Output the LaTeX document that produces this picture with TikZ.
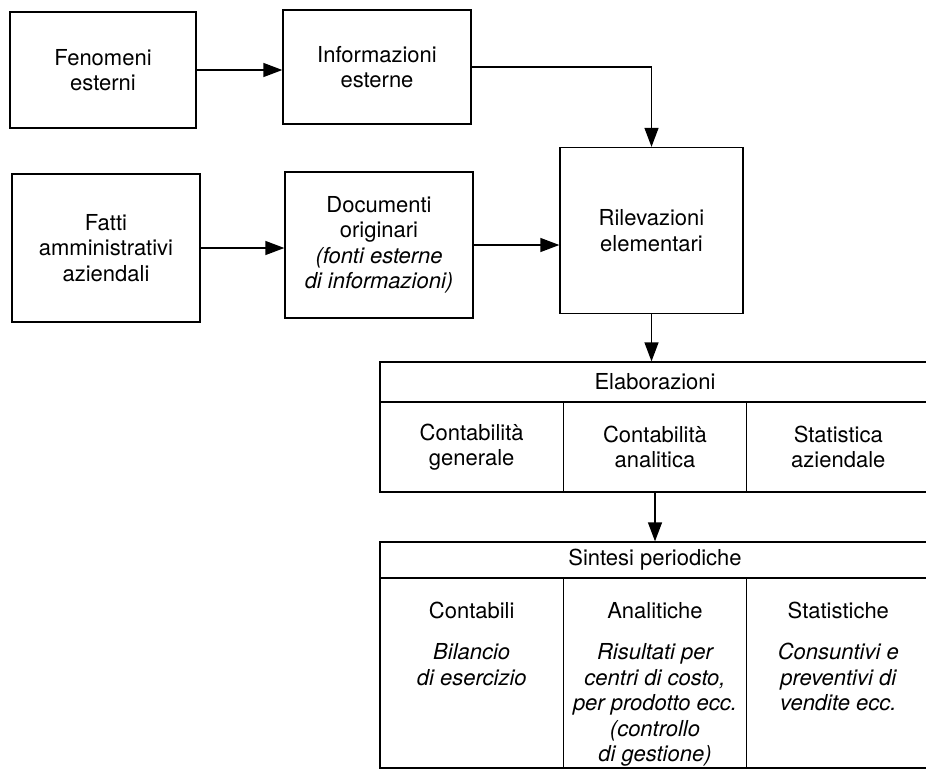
\documentclass[tikz,border=0pt]{standalone}
\usepackage{fontspec}
\setmainfont{TeX Gyre Heros}
\usetikzlibrary{arrows.meta,positioning}

% cell of the lower table: title on top, italic text below
\newcommand{\sumcell}[2]{\parbox[c][190pt][t]{175pt}{\centering\vspace*{24pt}#1\\[16pt]\itshape #2}}

\begin{document}
\begin{tikzpicture}[
        x=1pt, y=-1pt,
        font=\fontsize{22}{25.5}\selectfont,
        block/.style={
            rectangle,
            draw=black,
            line width=1.3pt,
            align=center,
            inner sep=0pt
        },
        heading/.style={
            block,
            minimum width=550pt
        },
        cell/.style={
            block,
            minimum width=183.3pt,
            text width=175pt,
            minimum height=90pt
        },
        tallcell/.style={
            block,
            minimum width=183.3pt,
            minimum height=190pt
        },
        arrow/.style={-{Triangle[length=19pt,width=14pt]}, draw, line width=1.3pt}
    ]
        \clip (0,0) rectangle (926,774);

        % Source nodes
        \node[block, minimum width=186pt, minimum height=116pt] (fenomeni) at (103,70) {Fenomeni\\esterni};
        \node[block, minimum width=188pt, minimum height=114pt] (informazioni) at (377,67) {Informazioni\\esterne};
        \node[block, minimum width=188pt, minimum height=148pt] (fatti) at (106,248) {Fatti\\amministrativi\\aziendali};
        \node[block, minimum width=188pt, minimum height=146pt] (documenti) at (379,245) {Documenti\\originari\\\textit{(fonti esterne}\\\textit{di informazioni)}};
        \node[block, minimum width=183pt, minimum height=166pt] (rilevazioni) at (651.5,230.5) {Rilevazioni\\elementari};

        % Elaborazioni table
        \node[heading, minimum height=40pt] (elaborazioni) at (655,382) {Elaborazioni};
        \node[cell] (cgenerale) at (471.7,447) {Contabilità\\generale};
        \node[cell] (canalitica) at (655,447) {Contabilità\\analitica};
        \node[cell] (saziendale) at (838.3,447) {Statistica\\aziendale};

        % Sintesi table
        \node[heading, minimum height=36pt] (sintesi) at (655,560) {Sintesi periodiche};
        \node[tallcell] (contabili) at (471.7,673) {\sumcell{Contabili}{Bilancio\\di esercizio}};
        \node[tallcell] (analitiche) at (655,673) {\sumcell{Analitiche}{Risultati per\\centri di costo,\\per prodotto ecc.\\(controllo\\di gestione)}};
        \node[tallcell] (statistiche) at (838.3,673) {\sumcell{Statistiche}{Consuntivi e\\preventivi di\\vendite ecc.}};

        % Arrows
        \draw[arrow] (fenomeni.east) -- (fenomeni.east -| informazioni.west);
        \draw[arrow] (fatti.east) -- (fatti.east -| documenti.west);
        \draw[arrow] (documenti.east) -- (documenti.east -| rilevazioni.west);
        \draw[arrow] (informazioni.east) -| (rilevazioni.north);
        \draw[arrow] (rilevazioni.south) -- (rilevazioni.south |- elaborazioni.north);
        \draw[arrow] (canalitica.south) -- (sintesi.north);

    \end{tikzpicture}
\end{document}
